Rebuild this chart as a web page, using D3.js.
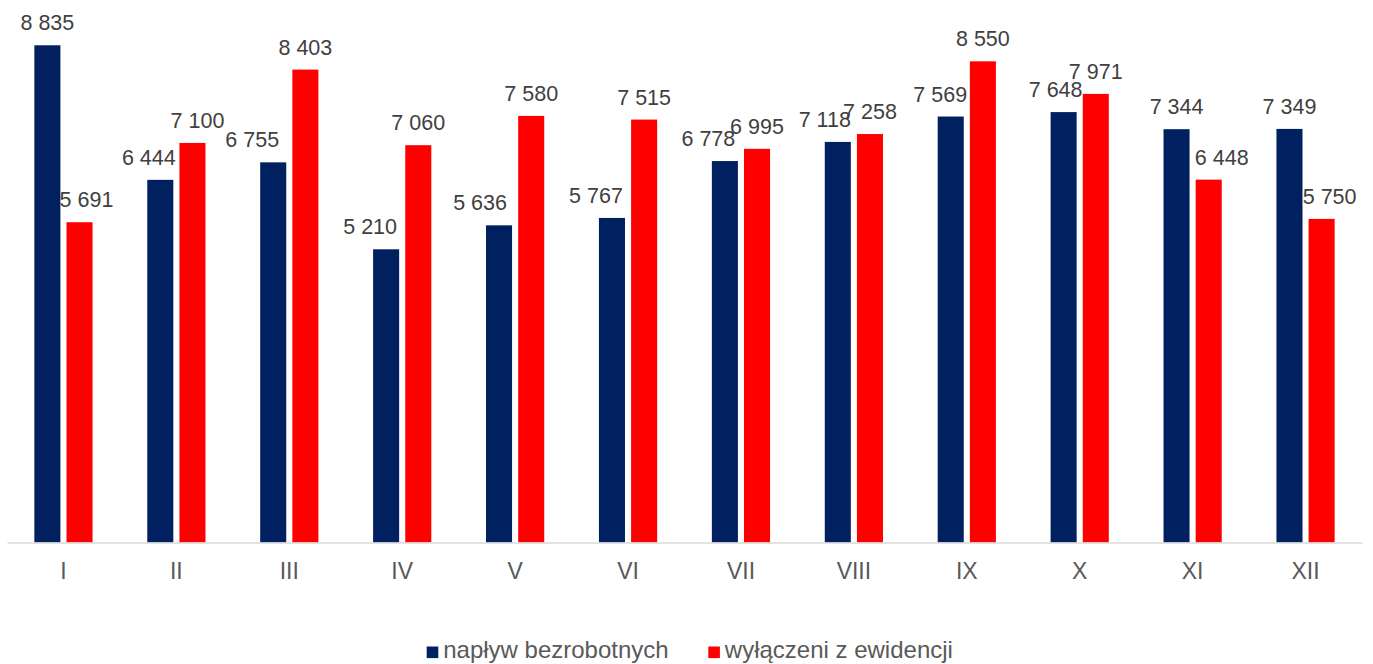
<!DOCTYPE html>
<html>
<head>
<meta charset="utf-8">
<script src="https://cdn.jsdelivr.net/npm/d3@7"></script>
<style>
  html, body { margin: 0; padding: 0; background: #ffffff; }
  svg { display: block; font-family: "Liberation Sans", Arial, sans-serif; }
</style>
</head>
<body>
<svg id="chart" width="1373" height="664"></svg>
<script>
// ---- data ----
const months = ["I", "II", "III", "IV", "V", "VI", "VII", "VIII", "IX", "X", "XI", "XII"];
const seriesNames = ["napływ bezrobotnych", "wyłączeni z ewidencji"];
const inflow = [8835, 6444, 6755, 5210, 5636, 5767, 6778, 7118, 7569, 7648, 7344, 7349];
const removed = [5691, 7100, 8403, 7060, 7580, 7515, 6995, 7258, 8550, 7971, 6448, 5750];

// ---- label horizontal nudges (layout only) ----
const nudgeInflow = [0, -11.5, -21, -16, -19, -16, -16.5, -13, -10.5, -8, 0, 0];
const nudgeRemoved = [7, 5, 0, 0, 0, 0, 0, 0, 0, 0, 13, 8];

const colors = ["#002060", "#FF0000"];

const svg = d3.select("#chart");
const baseY = 542.5;

const x0 = d3.scaleBand().domain(months).range([7, 1362]).paddingInner(0.4845).paddingOuter(0.2422);
const x1 = d3.scaleBand().domain(seriesNames).range([0, x0.bandwidth()]).paddingInner(0.19).paddingOuter(0);
const y = d3.scaleLinear().domain([0, 9000]).range([baseY, 36]);

const fmt = v => d3.format(",")(v).replace(/,/g, " ");

const rows = months.map((m, i) => ({
  month: m,
  vals: [
    { s: seriesNames[0], v: inflow[i], c: colors[0], n: nudgeInflow[i] },
    { s: seriesNames[1], v: removed[i], c: colors[1], n: nudgeRemoved[i] }
  ]
}));

const g = svg.append("g");

const groups = g.selectAll("g.grp").data(rows).join("g")
  .attr("class", "grp")
  .attr("transform", d => `translate(${x0(d.month)},0)`);

groups.selectAll("rect").data(d => d.vals).join("rect")
  .attr("x", d => x1(d.s))
  .attr("width", x1.bandwidth())
  .attr("y", d => y(d.v))
  .attr("height", d => baseY - y(d.v))
  .attr("fill", d => d.c);

groups.selectAll("text.lbl").data(d => d.vals).join("text")
  .attr("class", "lbl")
  .attr("x", d => x1(d.s) + x1.bandwidth() / 2 + d.n)
  .attr("y", d => y(d.v) - 15)
  .attr("text-anchor", "middle")
  .attr("font-size", "21.5px")
  .attr("fill", "#404040")
  .text(d => fmt(d.v));

// axis
const axis = svg.append("g")
  .attr("transform", `translate(0,${baseY})`)
  .call(d3.axisBottom(x0).tickSize(0).tickSizeOuter(0));
axis.select(".domain").attr("stroke", "#d9d9d9").attr("stroke-width", 1.5);
axis.selectAll(".tick text")
  .attr("dy", null)
  .attr("y", 36.5)
  .attr("font-size", "23px")
  .attr("font-family", "\"Liberation Sans\", Arial, sans-serif")
  .attr("fill", "#595959");

// legend
const legendItems = [
  { name: seriesNames[0], c: colors[0], x: 426.7 },
  { name: seriesNames[1], c: colors[1], x: 708.3 }
];
const leg = svg.append("g");
leg.selectAll("rect").data(legendItems).join("rect")
  .attr("x", d => d.x)
  .attr("y", 646.5)
  .attr("width", 11.6)
  .attr("height", 11.6)
  .attr("fill", d => d.c);
leg.selectAll("text").data(legendItems).join("text")
  .attr("x", d => d.x + 16.5)
  .attr("y", 657.7)
  .attr("font-size", "24px")
  .attr("fill", "#595959")
  .text(d => d.name);
</script>
</body>
</html>
